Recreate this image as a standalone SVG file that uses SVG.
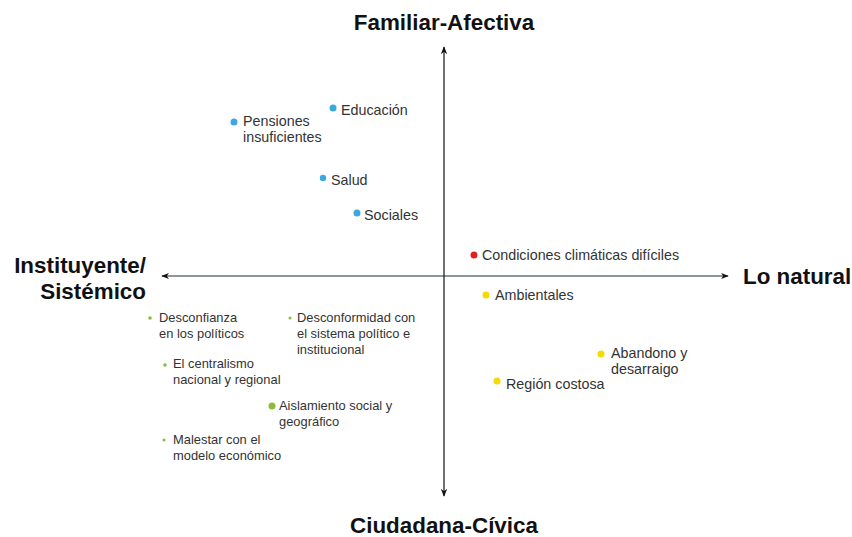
<svg xmlns="http://www.w3.org/2000/svg" width="852" height="537" viewBox="0 0 852 537">
<defs>
<marker id="arr" viewBox="0 0 10 10" refX="9" refY="5" markerWidth="8" markerHeight="8" orient="auto-start-reverse" markerUnits="userSpaceOnUse">
<path d="M0,1 L10,5 L0,9 L3,5 Z" fill="#111"/>
</marker>
<style>
.t{font-family:"Liberation Sans",Arial,sans-serif;font-size:14.3px;fill:#333}
.s{font-family:"Liberation Sans",Arial,sans-serif;font-size:12.9px;fill:#333}
.h{font-family:"Liberation Sans",Arial,sans-serif;font-size:22.4px;font-weight:bold;fill:#111}
.b{fill:#3aa9e0}.g{fill:#8cbb3c}.y{fill:#f5dc00}.r{fill:#e02020}
</style>
</defs>
<rect width="852" height="537" fill="#fff"/>
<g id="connectors">
<line x1="444" y1="496" x2="444" y2="47" stroke="#111" stroke-width="1.2" marker-start="url(#arr)" marker-end="url(#arr)"/>
<line x1="162" y1="276" x2="728" y2="276" stroke="#1f2f3c" stroke-width="1.2" marker-start="url(#arr)" marker-end="url(#arr)"/>
</g>
<g id="axis-top"><text class="h" x="444" y="30" text-anchor="middle">Familiar-Afectiva</text></g>
<g id="axis-bottom"><text class="h" x="444" y="533" text-anchor="middle">Ciudadana-Cívica</text></g>
<g id="axis-left"><text class="h" x="146" y="273" text-anchor="end">Instituyente/</text><text class="h" x="146" y="299" text-anchor="end">Sistémico</text></g>
<g id="axis-right"><text class="h" x="743" y="284">Lo natural</text></g>
<g id="educacion"><circle class="b" cx="333" cy="108" r="3.5"/><text class="t" x="341" y="115">Educación</text></g>
<g id="pensiones"><circle class="b" cx="234" cy="122" r="3.5"/><text class="t" x="243" y="126">Pensiones</text><text class="t" x="243" y="142">insuficientes</text></g>
<g id="salud"><circle class="b" cx="323" cy="178" r="3.2"/><text class="t" x="331" y="185">Salud</text></g>
<g id="sociales"><circle class="b" cx="357" cy="213" r="3.5"/><text class="t" x="364" y="220">Sociales</text></g>
<g id="condiciones"><circle class="r" cx="474" cy="255" r="3.5"/><text class="t" x="482" y="260">Condiciones climáticas difíciles</text></g>
<g id="ambientales"><circle class="y" cx="486" cy="295" r="3.5"/><text class="t" x="495" y="300">Ambientales</text></g>
<g id="abandono"><circle class="y" cx="601" cy="354" r="3.5"/><text class="t" x="611" y="358">Abandono y</text><text class="t" x="611" y="374">desarraigo</text></g>
<g id="region"><circle class="y" cx="497" cy="381" r="3.5"/><text class="t" x="506" y="389">Región costosa</text></g>
<g id="desconfianza"><circle class="g" cx="150" cy="318" r="1.8"/><text class="s" x="159" y="322">Desconfianza</text><text class="s" x="159" y="338">en los políticos</text></g>
<g id="desconformidad"><circle class="g" cx="290" cy="318" r="1.5"/><text class="s" x="297" y="322">Desconformidad con</text><text class="s" x="297" y="338">el sistema político e</text><text class="s" x="297" y="354">institucional</text></g>
<g id="centralismo"><circle class="g" cx="165" cy="365" r="1.8"/><text class="s" x="173" y="368">El centralismo</text><text class="s" x="173" y="384">nacional y regional</text></g>
<g id="aislamiento"><circle class="g" cx="272" cy="406" r="3.5"/><text class="s" x="279" y="410">Aislamiento social y</text><text class="s" x="279" y="426">geográfico</text></g>
<g id="malestar"><circle class="g" cx="164" cy="440" r="1.5"/><text class="s" x="173" y="444">Malestar con el</text><text class="s" x="173" y="460">modelo económico</text></g>
</svg>
